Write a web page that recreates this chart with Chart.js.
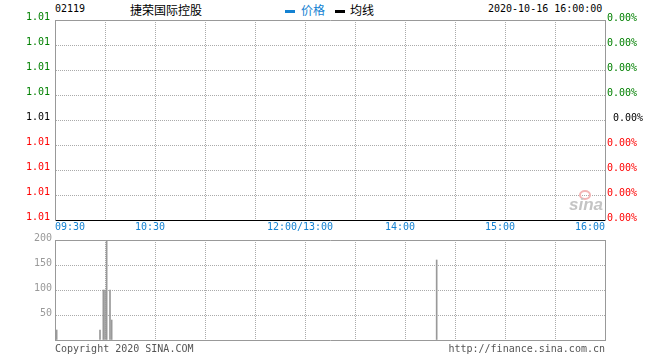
<!DOCTYPE html>
<html>
<head>
<meta charset="utf-8">
<script src="https://cdn.jsdelivr.net/npm/chart.js@4.4.1/dist/chart.umd.min.js"></script>
<style>
    body { margin: 0; background: #fff; width: 660px; height: 360px; position: relative; overflow: hidden; font-family: 'DejaVu Sans Mono', monospace; }
    .t { position: absolute; white-space: pre; font-size: 10px; line-height: 12px; }
    .cn { position: absolute; white-space: pre; font-family: 'Noto Sans CJK SC', sans-serif; font-size: 12px; line-height: 14px; }
    canvas { position: absolute; left: 0; }
</style>
</head>
<body>
<div class="t" id="code" style="left:55px;top:3px;color:#000"></div>
<div class="cn" id="name" style="left:130px;top:3px;color:#000"></div>
<div style="position:absolute;left:285px;top:10px;width:10px;height:3px;background:#1482d2"></div>
<div class="cn" style="left:301px;top:3px;color:#1482d2">价格</div>
<div style="position:absolute;left:335px;top:10px;width:10px;height:3px;background:#000"></div>
<div class="cn" style="left:350px;top:3px;color:#000">均线</div>
<div class="t" id="qtime" style="left:488px;top:3px;color:#000"></div>

<canvas id="priceChart" width="660" height="236" style="top:0"></canvas>
<canvas id="volChart" width="660" height="114" style="top:230px"></canvas>

<!-- sina 水印 -->
<div style="position:absolute;left:579px;top:190px;width:8px;height:6px;border:2px solid #f3b4b4;border-radius:50%"></div>
<div style="position:absolute;left:569px;top:196px;font:bold italic 17px 'Liberation Sans',sans-serif;color:#c4c4c4;line-height:18px">sina</div>

<div class="t" style="left:55px;top:343px;color:#555">Copyright 2020 SINA.COM</div>
<div class="t" style="right:55px;top:343px;color:#555">http://finance.sina.com.cn</div>

<script>
// === ДАННЫЕ ===
const stockCode = '02119';
const stockName = '捷荣国际控股';
const quoteTime = '2020-10-16 16:00:00';

// шкала цены и процентов, сверху вниз
const priceLabels = ['1.01', '1.01', '1.01', '1.01', '1.01', '1.01', '1.01', '1.01', '1.01'];
const pctLabels = ['0.00%', '0.00%', '0.00%', '0.00%', ' 0.00%', '0.00%', '0.00%', '0.00%', '0.00%'];

const timeLabels = ['09:30', '10:30', '12:00/13:00', '14:00', '15:00', '16:00'];

// объём по минутам
const volTimes = ['09:31', '09:57', '09:59', '10:00', '10:01', '10:03', '10:04', '14:19'];
const volValues = [20, 20, 100, 100, 200, 100, 40, 160];
const volTicks = [50, 100, 150, 200];

const BLUE = '#1482d2';
const GRID = '#aaaaaa';
const FRAME = '#999999';
const NONE = 'rgba(0,0,0,0)';
const FONT = { family: 'DejaVu Sans Mono', size: 10 };

document.getElementById('code').textContent = stockCode;
document.getElementById('name').textContent = stockName;
document.getElementById('qtime').textContent = quoteTime;

// минуты торгов от 09:30 (обед 12:00-13:00 выкинут)
function toMinute(t) {
    const [h, m] = t.split('/')[0].split(':').map(Number);
    let mins = h * 60 + m - (9 * 60 + 30);
    if (h >= 13) mins -= 60;
    return mins;
}
const labelMinutes = timeLabels.map(toMinute);
const MAX_MIN = labelMinutes[labelMinutes.length - 1];
const MID = (priceLabels.length - 1) / 2;
const VOL_MAX = volTicks[volTicks.length - 1];

const edgeX = ctx => (ctx.tick.value === 0 || ctx.tick.value === MAX_MIN) ? NONE : GRID;
const signColor = ctx => ctx.tick.value > 0 ? '#008000' : (ctx.tick.value < 0 ? '#ff0000' : '#000');

// фиксируем размеры осей, чтобы область графика была 55..605
const fixW = w => s => { s.width = w; s.paddingTop = 0; s.paddingBottom = 0; };
const fixH = h => s => { s.height = h; s.paddingLeft = 0; s.paddingRight = 0; };

// === ГРАФИК ЦЕНЫ ===
new Chart(document.getElementById('priceChart'), {
    type: 'line',
    data: { datasets: [] },
    options: {
        responsive: false,
        animation: false,
        layout: { padding: { top: 20 } },
        plugins: { legend: { display: false }, tooltip: { enabled: false } },
        scales: {
            // сетка + крайние подписи времени
            x: {
                type: 'linear', min: 0, max: MAX_MIN, weight: 0,
                afterFit: fixH(16),
                ticks: {
                    stepSize: 30, autoSkip: false, maxRotation: 0, align: 'inner', padding: 1,
                    color: BLUE, font: FONT,
                    callback: v => (v === 0 || v === MAX_MIN) ? timeLabels[labelMinutes.indexOf(v)] : ''
                },
                grid: { color: edgeX, drawTicks: false },
                border: { color: '#000', dash: [1, 1] }
            },
            // средние подписи времени (mirror — рисуются над своей осью, без обрезки)
            xLab: {
                type: 'linear', position: 'bottom', min: 0, max: MAX_MIN, weight: 1,
                afterFit: fixH(0),
                afterBuildTicks: s => { s.ticks = labelMinutes.slice(1, -1).map(v => ({ value: v })); },
                ticks: {
                    autoSkip: false, maxRotation: 0, mirror: true, padding: 3, labelOffset: -5,
                    color: BLUE, font: FONT,
                    callback: v => timeLabels[labelMinutes.indexOf(v)]
                },
                grid: { display: false, drawTicks: false },
                border: { display: false }
            },
            xTop: {
                type: 'linear', position: 'top', min: 0, max: MAX_MIN,
                afterFit: fixH(0),
                ticks: { display: false },
                grid: { display: false, drawTicks: false },
                border: { color: FRAME }
            },
            y: {
                type: 'linear', min: -MID, max: MID,
                afterFit: fixW(55),
                ticks: {
                    stepSize: 1, padding: 5, labelOffset: -3, font: FONT, color: signColor,
                    callback: v => priceLabels[MID - v]
                },
                grid: { color: ctx => Math.abs(ctx.tick.value) === MID ? NONE : GRID, drawTicks: false },
                border: { color: FRAME, dash: [1, 1] }
            },
            y2: {
                type: 'linear', position: 'right', min: -MID, max: MID,
                afterFit: fixW(55),
                ticks: {
                    stepSize: 1, padding: 2, labelOffset: -2, font: FONT, color: signColor,
                    callback: v => pctLabels[MID - v]
                },
                grid: { drawOnChartArea: false, drawTicks: false },
                border: { color: FRAME }
            }
        }
    }
});

// === ГРАФИК ОБЪЁМА ===
new Chart(document.getElementById('volChart'), {
    type: 'bar',
    data: {
        datasets: [{
            data: volTimes.map((t, i) => ({ x: toMinute(t), y: volValues[i] })),
            backgroundColor: FRAME,
            borderWidth: 0,
            barThickness: 1
        }]
    },
    options: {
        responsive: false,
        animation: false,
        layout: { padding: { top: 10, bottom: 4 } },
        plugins: { legend: { display: false }, tooltip: { enabled: false } },
        scales: {
            x: {
                type: 'linear', min: 0, max: MAX_MIN, offset: false,
                afterFit: fixH(0),
                ticks: { display: false, stepSize: 30 },
                grid: { color: edgeX, drawTicks: false, offset: false },
                border: { color: FRAME, dash: [1, 1] }
            },
            xTop: {
                type: 'linear', position: 'top', min: 0, max: MAX_MIN,
                afterFit: fixH(0),
                ticks: { display: false },
                grid: { display: false, drawTicks: false },
                border: { color: FRAME }
            },
            y: {
                type: 'linear', min: 0, max: VOL_MAX,
                afterFit: fixW(55),
                ticks: {
                    stepSize: 50, padding: 3, labelOffset: -2, font: FONT, color: FRAME,
                    callback: v => volTicks.includes(v) ? String(v) : ''
                },
                grid: {
                    color: ctx => (ctx.tick.value === 0 || ctx.tick.value === VOL_MAX) ? NONE : GRID,
                    drawTicks: false
                },
                border: { color: FRAME, dash: [1, 1] }
            },
            y2: {
                type: 'linear', position: 'right', min: 0, max: VOL_MAX,
                afterFit: fixW(55),
                ticks: { display: false },
                grid: { drawOnChartArea: false, drawTicks: false },
                border: { color: FRAME }
            }
        }
    }
});
</script>
</body>
</html>
